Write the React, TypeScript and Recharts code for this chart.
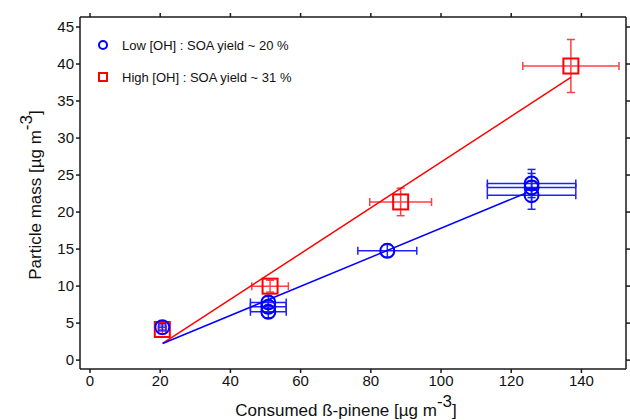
import { ScatterChart, Scatter, XAxis, YAxis, ErrorBar } from 'recharts'

// Low [OH] experiments (blue circles)
const LOW_X = [20.6, 50.8, 50.8, 50.8, 84.7, 125.8, 125.8, 125.8]
const LOW_Y = [4.45, 7.79, 7.2, 6.52, 14.76, 23.86, 23.32, 22.28]
const LOW_X_ERR = [1.0, 5.1, 5.1, 5.1, 8.4, 12.6, 12.6, 12.6]
const LOW_Y_ERR = [0.5, 0.8, 0.8, 0.8, 0.86, 1.9, 1.9, 1.9]

// High [OH] experiments (red squares)
const HIGH_X = [20.6, 51.3, 88.5, 137.0]
const HIGH_Y = [4.14, 9.99, 21.37, 39.73]
const HIGH_X_ERR = [1.2, 5.2, 8.8, 13.7]
const HIGH_Y_ERR = [0.6, 0.8, 1.86, 3.58]

// yield fit lines
const LOW_FIT_X = [20.7, 124.1]
const LOW_FIT_Y = [2.25, 22.55]
const HIGH_FIT_X = [20.7, 137.0]
const HIGH_FIT_Y = [2.25, 38.2]

const X_TICKS = [0, 20, 40, 60, 80, 100, 120, 140]
const Y_TICKS = [0, 5, 10, 15, 20, 25, 30, 35, 40, 45]
const X_DOMAIN = [-2.85, 152.7]
const Y_DOMAIN = [-1.2, 46.35]

const LEGEND = ['Low [OH] : SOA yield ~ 20 %', 'High [OH] : SOA yield ~ 31 %']

const BLUE = '#0000ff'
const RED = '#ff0000'
const AXIS = '#1a1a1a'
const FONT = '"Liberation Sans", Arial, sans-serif'

const lowData = LOW_X.map((x, i) => ({ x, y: LOW_Y[i], ex: LOW_X_ERR[i], ey: LOW_Y_ERR[i] }))
const highData = HIGH_X.map((x, i) => ({ x, y: HIGH_Y[i], ex: HIGH_X_ERR[i], ey: HIGH_Y_ERR[i] }))
const lowFit = LOW_FIT_X.map((x, i) => ({ x, y: LOW_FIT_Y[i] }))
const highFit = HIGH_FIT_X.map((x, i) => ({ x, y: HIGH_FIT_Y[i] }))

const CircleMark = (p: any) => (
  <circle cx={p.cx} cy={p.cy} r={7} fill="none" stroke={BLUE} strokeWidth={2} />
)
const SquareMark = (p: any) => (
  <rect x={p.cx - 7.5} y={p.cy - 7.5} width={15} height={15} fill="none" stroke={RED} strokeWidth={2} />
)
const NoMark = () => <g />

const tickStyle = { fontSize: 15, fill: '#111', fontFamily: FONT }

const XTitle = () => (
  <text x={346} y={416} textAnchor="middle" fontSize={17} fontFamily={FONT} fill="#111">
    Consumed ß-pinene [µg m<tspan dy={-9}>-3</tspan>
    <tspan dy={9}>]</tspan>
  </text>
)

const YTitle = () => (
  <text
    x={41}
    y={195}
    transform="rotate(-90 41 195)"
    textAnchor="middle"
    fontSize={17}
    fontFamily={FONT}
    fill="#111"
  >
    Particle mass [µg m<tspan dy={-9}>-3</tspan>
    <tspan dy={9}>]</tspan>
  </text>
)

export default function App() {
  return (
    <div style={{ position: 'absolute', left: 0, top: 0, width: 630, height: 420, background: '#fff' }}>
      <ScatterChart width={630} height={420} margin={{ top: 0, right: 0, bottom: 0, left: 0 }}>
        <XAxis
          xAxisId="bottom"
          type="number"
          dataKey="x"
          domain={X_DOMAIN}
          allowDataOverflow
          ticks={X_TICKS}
          height={51}
          tickSize={4}
          tick={tickStyle}
          stroke={AXIS}
          strokeWidth={1.5}
          label={{ content: XTitle }}
        />
        <XAxis
          xAxisId="top"
          orientation="top"
          type="number"
          dataKey="x"
          domain={X_DOMAIN}
          allowDataOverflow
          ticks={X_TICKS}
          height={17}
          tickSize={4}
          tickFormatter={() => ''}
          stroke={AXIS}
          strokeWidth={1.5}
        />
        <YAxis
          yAxisId="left"
          type="number"
          dataKey="y"
          domain={Y_DOMAIN}
          allowDataOverflow
          ticks={Y_TICKS}
          width={80}
          tickSize={4}
          tick={tickStyle}
          stroke={AXIS}
          strokeWidth={1.5}
          label={{ content: YTitle }}
        />
        <YAxis
          yAxisId="right"
          orientation="right"
          type="number"
          dataKey="y"
          domain={Y_DOMAIN}
          allowDataOverflow
          ticks={Y_TICKS}
          width={4}
          tickSize={4}
          tickFormatter={() => ''}
          stroke={AXIS}
          strokeWidth={1.5}
        />
        <Scatter
          data={highFit}
          xAxisId="bottom"
          yAxisId="left"
          line={{ stroke: RED, strokeWidth: 1.5 }}
          shape={NoMark}
          isAnimationActive={false}
        />
        <Scatter
          data={lowFit}
          xAxisId="bottom"
          yAxisId="left"
          line={{ stroke: BLUE, strokeWidth: 1.5 }}
          shape={NoMark}
          isAnimationActive={false}
        />
        <Scatter data={highData} xAxisId="bottom" yAxisId="left" shape={SquareMark} isAnimationActive={false}>
          <ErrorBar dataKey="ex" direction="x" width={4} stroke="#ff4040" strokeWidth={1.5} isAnimationActive={false} />
          <ErrorBar dataKey="ey" direction="y" width={4} stroke="#ff4040" strokeWidth={1.5} isAnimationActive={false} />
        </Scatter>
        <Scatter data={lowData} xAxisId="bottom" yAxisId="left" shape={CircleMark} isAnimationActive={false}>
          <ErrorBar dataKey="ex" direction="x" width={4} stroke="#2020ff" strokeWidth={1.5} isAnimationActive={false} />
          <ErrorBar dataKey="ey" direction="y" width={4} stroke="#2020ff" strokeWidth={1.5} isAnimationActive={false} />
        </Scatter>
      </ScatterChart>
      <div style={{ position: 'absolute', left: 96, top: 35, fontFamily: FONT, fontSize: 13, color: '#111' }}>
        <div style={{ display: 'flex', alignItems: 'center', height: 20 }}>
          <svg width={14} height={14} style={{ marginRight: 12 }}>
            <circle cx={7} cy={7} r={4} fill="none" stroke={BLUE} strokeWidth={2} />
          </svg>
          {LEGEND[0]}
        </div>
        <div style={{ display: 'flex', alignItems: 'center', height: 20, marginTop: 12 }}>
          <svg width={14} height={14} style={{ marginRight: 12 }}>
            <rect x={3} y={3} width={8} height={8} fill="none" stroke={RED} strokeWidth={2} />
          </svg>
          {LEGEND[1]}
        </div>
      </div>
    </div>
  )
}
